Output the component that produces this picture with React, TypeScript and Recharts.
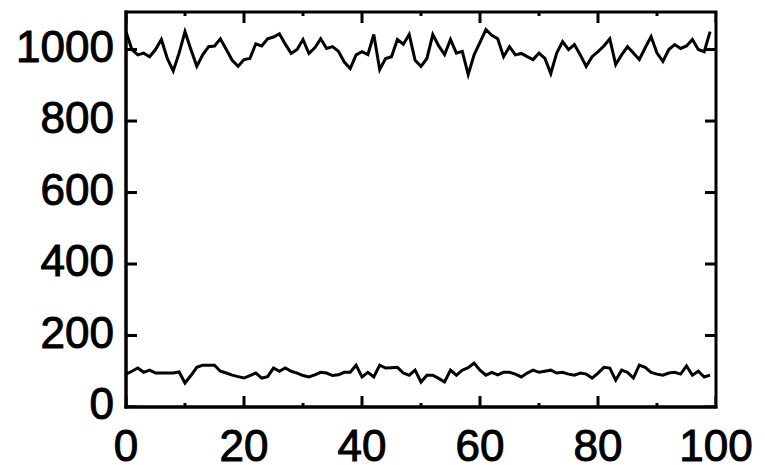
import { ComposedChart, Line, Scatter, XAxis, YAxis, ReferenceArea } from 'recharts'

// sample index 0..99
const sampleIndex = [
  0, 1, 2, 3, 4, 5, 6, 7, 8, 9, 10, 11, 12, 13, 14, 15, 16, 17, 18, 19,
  20, 21, 22, 23, 24, 25, 26, 27, 28, 29, 30, 31, 32, 33, 34, 35, 36, 37, 38, 39,
  40, 41, 42, 43, 44, 45, 46, 47, 48, 49, 50, 51, 52, 53, 54, 55, 56, 57, 58, 59,
  60, 61, 62, 63, 64, 65, 66, 67, 68, 69, 70, 71, 72, 73, 74, 75, 76, 77, 78, 79,
  80, 81, 82, 83, 84, 85, 86, 87, 88, 89, 90, 91, 92, 93, 94, 95, 96, 97, 98, 99,
]

const upperSeries = [
  1050, 1000, 985, 990, 980, 1000, 1028, 975, 940, 990,
  1050, 1000, 953, 985, 1008, 1010, 1030, 1000, 970, 953,
  972, 975, 1016, 1010, 1030, 1035, 1044, 1015, 989, 1000,
  1028, 989, 1005, 1030, 1003, 1008, 995, 965, 947, 985,
  994, 986, 1042, 944, 975, 980, 1028, 1015, 1042, 970,
  953, 975, 1042, 1010, 986, 1028, 990, 995, 930, 985,
  1020, 1056, 1040, 1030, 980, 1008, 985, 989, 980, 972,
  990, 975, 933, 990, 1022, 1000, 1014, 985, 953, 980,
  994, 1010, 1030, 958, 985, 1008, 990, 972, 1005, 1036,
  990, 967, 1000, 1014, 1003, 1010, 1028, 1000, 994, 1050,
]

const lowerSeries = [
  92, 100, 109, 97, 103, 95, 95, 95, 95, 98,
  67, 88, 111, 117, 117, 117, 100, 95, 89, 85,
  81, 88, 95, 81, 85, 109, 100, 109, 100, 95,
  88, 84, 90, 97, 95, 88, 90, 97, 97, 117,
  84, 97, 84, 117, 109, 110, 111, 95, 89, 103,
  70, 89, 89, 80, 70, 103, 89, 103, 110, 123,
  103, 89, 97, 90, 97, 97, 92, 84, 95, 103,
  97, 100, 103, 95, 97, 92, 89, 95, 92, 81,
  95, 111, 109, 75, 103, 97, 81, 117, 111, 97,
  92, 89, 95, 97, 92, 115, 89, 100, 84, 89,
]

const xTicks = [0, 10, 20, 30, 40, 50, 60, 70, 80, 90, 100]
const xLabelTicks = [0, 20, 40, 60, 80, 100]
const yTicks = [0, 200, 400, 600, 800, 1000]

const X_DOMAIN: [number, number] = [0, 100]
const Y_DOMAIN: [number, number] = [0, 1105]

const chartData = sampleIndex.map((x, i) => ({
  x,
  upper: upperSeries[i],
  lower: lowerSeries[i],
}))

// anchor points for the inward tick marks, one per tick on each side
const bottomTickPts = xTicks.map(x => ({ x, y: Y_DOMAIN[0] }))
const topTickPts = xTicks.map(x => ({ x, y: Y_DOMAIN[1] }))
const leftTickPts = yTicks.map(y => ({ x: X_DOMAIN[0], y }))
const rightTickPts = yTicks.map(y => ({ x: X_DOMAIN[1], y }))

const FONT = '"Liberation Sans", Arial, sans-serif'
const FONT_SIZE = 44
const MAJOR = 11
const MINOR = 4
const frameLine = { stroke: '#000', strokeWidth: 3, strokeLinecap: 'square' as const }

function BottomLabel({ x, y, payload }: any) {
  return (
    <text x={x} y={y + 54} textAnchor="middle" fontSize={FONT_SIZE} fontFamily={FONT}
      fill="#000" stroke="#000" strokeWidth={1}>
      {payload.value}
    </text>
  )
}

function LeftLabel({ x, y, payload }: any) {
  return (
    <text x={x - 12} y={y + 12} textAnchor="end" fontSize={FONT_SIZE} fontFamily={FONT}
      fill="#000" stroke="#000" strokeWidth={1}>
      {payload.value}
    </text>
  )
}

const xTickLen = (v: number) => (xLabelTicks.includes(v) ? MAJOR : MINOR)

const BottomMark = ({ cx, cy, payload }: any) => (
  <rect x={cx - 1.5} y={cy - xTickLen(payload.x)} width={3} height={xTickLen(payload.x)} fill="#000" />
)
const TopMark = ({ cx, cy, payload }: any) => (
  <rect x={cx - 1.5} y={cy} width={3} height={xTickLen(payload.x)} fill="#000" />
)
const LeftMark = ({ cx, cy }: any) => <rect x={cx} y={cy - 1.5} width={MAJOR} height={3} fill="#000" />
const RightMark = ({ cx, cy }: any) => <rect x={cx - MAJOR} y={cy - 1.5} width={MAJOR} height={3} fill="#000" />

export default function App() {
  return (
    <div style={{ position: 'absolute', left: 0, top: 0, background: '#fff' }}>
      <ComposedChart width={765} height={465} data={chartData} margin={{ top: 12, right: 49, bottom: 0, left: 0 }}>
        <XAxis
          dataKey="x"
          type="number"
          domain={X_DOMAIN}
          ticks={xLabelTicks}
          interval={0}
          height={58}
          tickSize={0}
          tickMargin={0}
          tickLine={false}
          axisLine={frameLine}
          tick={<BottomLabel />}
          allowDataOverflow
        />
        <YAxis
          type="number"
          domain={Y_DOMAIN}
          ticks={yTicks}
          interval={0}
          width={126}
          tickSize={0}
          tickMargin={0}
          tickLine={false}
          axisLine={frameLine}
          tick={<LeftLabel />}
          allowDataOverflow
        />
        <ReferenceArea
          x1={X_DOMAIN[0]}
          x2={X_DOMAIN[1]}
          y1={Y_DOMAIN[0]}
          y2={Y_DOMAIN[1]}
          fill="none"
          fillOpacity={0}
          stroke="#000"
          strokeWidth={3}
          ifOverflow="visible"
        />
        <Scatter data={bottomTickPts} dataKey="y" shape={BottomMark} isAnimationActive={false} />
        <Scatter data={topTickPts} dataKey="y" shape={TopMark} isAnimationActive={false} />
        <Scatter data={leftTickPts} dataKey="y" shape={LeftMark} isAnimationActive={false} />
        <Scatter data={rightTickPts} dataKey="y" shape={RightMark} isAnimationActive={false} />
        <Line dataKey="upper" stroke="#000" strokeWidth={3} dot={false} isAnimationActive={false} />
        <Line dataKey="lower" stroke="#000" strokeWidth={3} dot={false} isAnimationActive={false} />
      </ComposedChart>
    </div>
  )
}
